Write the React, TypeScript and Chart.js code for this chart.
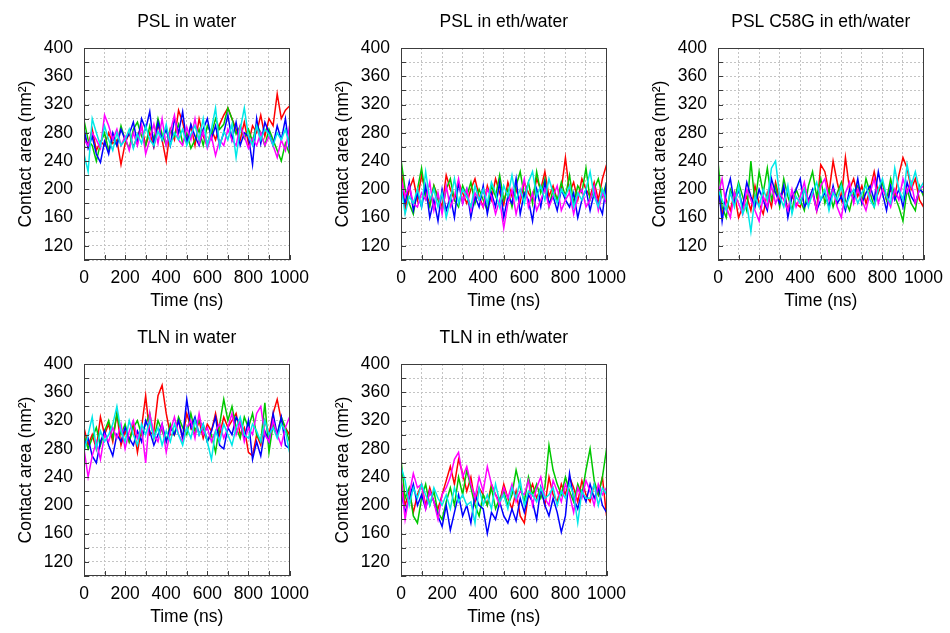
import React, { useEffect, useRef } from "react";
import { Chart, registerables } from "chart.js";
Chart.register(...registerables);

// Time axis (ns)
const timeNs = [0,20,40,60,80,100,120,140,160,180,200,220,240,260,280,300,320,340,360,380,400,420,440,460,480,500,520,540,560,580,600,620,640,660,680,700,720,740,760,780,800,820,840,860,880,900,920,940,960,980,1000];

// Panel titles
const panelTitles = ["PSL in water", "PSL in eth/water", "PSL C58G in eth/water", "TLN in water", "TLN in eth/water"];

// Series colours (gnuplot default order)
const seriesColors = ["#ff0000", "#00c800", "#0000ff", "#ff00ff", "#00e8e8"];

// Axis ticks
const yMin = 100, yMax = 400, yStep = 20, yLabelEvery = 40;
const xMin = 0, xMax = 1000, xStep = 100, xLabelEvery = 200;

// PSL in water
const p1Red = [278,262,285,255,268,262,280,265,270,235,265,280,260,275,290,262,280,260,292,270,240,285,270,312,295,268,290,262,300,275,262,285,270,292,305,315,300,285,270,295,265,290,280,305,275,300,290,335,300,312,318];
const p1Green = [298,270,262,240,265,280,255,272,262,290,270,258,285,295,275,262,290,270,300,278,262,285,275,292,265,280,258,270,285,262,290,278,300,285,292,315,300,278,290,272,285,268,292,280,262,285,270,255,240,265,250];
const p1Blue = [285,258,275,250,238,268,250,280,262,285,270,278,295,265,300,285,310,262,295,270,285,262,300,280,310,265,292,275,262,285,300,272,290,262,280,305,270,295,262,280,275,235,300,265,295,280,262,290,270,300,255];
const p1Magenta = [270,262,280,270,258,305,290,270,285,262,275,255,280,262,290,250,270,292,265,300,262,282,305,270,262,288,270,300,265,282,258,275,248,270,262,285,270,262,290,275,258,272,262,280,262,275,262,245,270,255,290];
const p1Cyan = [250,225,300,280,262,290,270,255,280,262,270,285,258,278,265,290,270,262,282,270,292,262,280,270,285,262,278,290,270,300,262,285,315,260,282,270,292,245,285,315,275,262,290,270,285,278,262,280,270,285,262];

// PSL in eth/water
const p2Red = [235,170,200,215,185,220,195,180,205,190,175,220,200,185,210,195,180,200,215,190,175,205,185,215,195,178,210,190,200,182,210,195,185,215,200,225,190,205,185,200,245,195,210,185,215,200,190,210,185,215,235];
const p2Green = [242,200,180,165,200,230,190,175,205,185,170,200,215,185,175,205,190,210,180,200,185,170,205,190,220,185,200,175,205,225,190,210,180,225,195,215,175,200,185,210,190,220,180,205,195,230,185,200,215,190,210];
const p2Blue = [200,180,210,170,195,175,205,160,185,155,200,170,190,160,210,180,200,160,190,175,205,165,195,175,210,160,190,180,215,165,195,185,155,200,175,210,180,190,170,200,185,175,195,160,185,200,170,195,180,165,210];
const p2Magenta = [215,190,205,180,175,195,185,210,170,195,165,205,175,190,215,180,200,170,195,185,175,200,190,165,185,145,180,200,165,190,215,175,195,170,185,200,175,190,205,170,185,195,165,190,200,175,185,205,170,195,180];
const p2Cyan = [205,165,190,180,200,175,225,185,200,175,195,160,185,215,180,200,190,175,205,185,200,180,210,195,175,205,190,220,185,200,180,210,225,190,205,185,215,195,180,200,190,205,175,195,185,200,225,190,175,200,185];

// PSL C58G in eth/water
const p3Red = [200,165,185,170,195,160,175,190,170,205,180,165,195,175,210,185,200,170,190,180,175,200,185,195,170,235,225,195,240,210,185,245,200,215,190,205,180,200,225,195,210,185,200,190,220,245,230,200,215,185,175];
const p3Green = [240,175,160,200,185,210,190,170,240,180,225,195,230,185,205,175,215,190,170,200,185,170,205,225,190,215,180,200,175,195,210,185,170,195,205,180,215,195,175,200,210,185,215,190,175,155,200,180,170,205,190];
const p3Blue = [210,155,195,215,180,200,175,210,190,175,200,185,170,215,195,180,205,160,190,200,215,175,185,200,170,185,195,175,205,180,190,170,200,185,215,180,195,205,185,225,195,170,205,185,200,175,210,190,180,200,195];
const p3Magenta = [190,215,175,160,195,180,165,200,185,170,155,190,175,205,180,195,185,170,200,175,190,210,180,195,170,205,215,185,200,175,160,195,210,180,200,185,170,195,215,180,200,190,175,200,185,215,195,210,180,200,205];
const p3Cyan = [200,185,170,195,175,205,165,180,140,190,175,200,185,230,240,190,175,205,165,190,180,200,175,195,210,185,200,170,195,185,205,175,190,200,180,195,205,185,175,200,215,190,180,230,200,185,235,205,225,200,210];

// TLN in water
const p4Red = [310,285,300,280,325,300,315,290,330,285,305,290,315,275,310,355,300,305,355,370,330,300,300,320,295,330,310,300,320,295,315,305,330,300,325,310,320,330,300,310,275,270,300,285,320,300,330,350,320,310,300];
const p4Green = [300,280,295,310,285,305,320,295,330,300,315,290,310,320,300,315,330,295,320,305,290,315,300,325,310,300,330,305,320,310,290,300,275,315,350,320,340,310,295,325,310,330,300,290,345,275,315,300,325,310,290];
const p4Blue = [285,295,270,260,290,305,285,270,300,290,310,295,285,305,290,320,305,285,300,315,290,310,300,320,295,350,310,325,300,315,290,305,325,285,280,310,300,325,315,295,320,265,290,270,305,290,330,300,325,285,280];
const p4Magenta = [280,240,270,290,265,300,290,310,295,315,280,305,320,295,310,260,330,300,290,315,275,305,325,300,290,310,320,295,330,300,310,290,305,315,295,310,330,300,320,290,310,300,330,340,300,290,320,300,285,310,325];
const p4Cyan = [275,300,325,280,305,290,300,315,340,305,290,320,300,285,315,300,320,295,310,285,305,290,315,300,285,310,295,320,300,315,290,265,305,290,315,300,285,310,325,300,295,315,305,290,320,300,310,295,315,305,275];

// TLN in eth/water
const p5Red = [235,200,220,190,215,230,200,225,205,195,215,235,255,230,265,245,220,240,205,225,215,200,230,215,205,230,210,195,220,185,175,215,230,210,225,200,240,215,205,230,215,240,225,205,235,215,205,230,215,240,185];
const p5Green = [265,210,225,185,175,210,230,200,220,190,180,205,225,200,240,215,250,225,200,185,215,200,225,195,210,220,200,215,250,225,205,240,215,230,210,225,285,250,230,215,240,220,205,230,215,250,280,235,215,240,280];
const p5Blue = [220,190,210,230,200,215,195,220,205,185,170,200,165,190,215,185,200,175,215,200,195,160,190,180,205,185,175,195,178,210,190,215,205,180,225,200,185,210,190,162,185,245,210,195,220,205,230,210,225,200,190];
const p5Magenta = [240,180,215,245,225,230,195,220,205,180,215,225,240,265,275,240,255,230,210,240,220,255,230,215,200,225,210,230,205,220,215,235,200,225,240,210,200,235,220,205,230,215,190,225,210,235,220,200,230,215,225];
const p5Cyan = [255,235,200,225,210,230,215,200,225,210,200,215,195,225,205,215,200,205,175,225,200,215,195,230,205,215,195,225,210,235,200,220,215,205,225,210,215,225,200,220,210,230,215,175,220,210,210,230,200,225,215];

const panelSeries = [
  [p1Red, p1Green, p1Blue, p1Magenta, p1Cyan],
  [p2Red, p2Green, p2Blue, p2Magenta, p2Cyan],
  [p3Red, p3Green, p3Blue, p3Magenta, p3Cyan],
  [p4Red, p4Green, p4Blue, p4Magenta, p4Cyan],
  [p5Red, p5Green, p5Blue, p5Magenta, p5Cyan],
];

// Canvas placement (page coordinates) for each panel
const panelLeft = [0, 317, 634, 0, 317];
const panelTop = [0, 0, 0, 316, 316];
const CW = 317, CH = 316;
const FONT = "'Liberation Sans', Arial, Helvetica, sans-serif";

const framePlugin = {
  id: "frameTicks",
  afterDatasetsDraw(chart: any) {
    const { ctx, chartArea: a, scales } = chart;
    ctx.save();
    ctx.strokeStyle = "#3c3c3c";
    ctx.lineWidth = 1;
    ctx.beginPath();
    const xs = scales.x, ys = scales.y;
    xs.ticks.forEach((t: any) => {
      const px = Math.round(xs.getPixelForValue(t.value)) + 0.5;
      ctx.moveTo(px, a.bottom);
      ctx.lineTo(px, a.bottom - 5);
    });
    ys.ticks.forEach((t: any) => {
      const py = Math.round(ys.getPixelForValue(t.value)) + 0.5;
      ctx.moveTo(a.left, py);
      ctx.lineTo(a.left + 5, py);
    });
    ctx.stroke();
    ctx.strokeRect(Math.round(a.left) + 0.5, Math.round(a.top) + 0.5, Math.round(a.right - a.left) - 1, Math.round(a.bottom - a.top) - 1);
    ctx.restore();
  },
};

function Panel({ idx }: { idx: number }) {
  const ref = useRef<HTMLCanvasElement | null>(null);
  useEffect(() => {
    if (!ref.current) return;
    const series = panelSeries[idx];
    const datasets = series.map((vals, i) => ({
      label: "run " + (i + 1),
      data: vals.map((v, j) => ({ x: timeNs[j], y: v })),
      borderColor: seriesColors[i],
      backgroundColor: seriesColors[i],
      borderWidth: 1.5,
      pointRadius: 0,
      tension: 0,
      fill: false,
      order: series.length - i,
    }));
    const chart = new Chart(ref.current, {
      type: "line",
      data: { datasets },
      plugins: [framePlugin],
      options: {
        animation: false,
        responsive: false,
        devicePixelRatio: 1,
        layout: { padding: { left: 0, right: 25, top: 0, bottom: 0 } },
        plugins: {
          legend: { display: false },
          tooltip: { enabled: false },
          title: {
            display: true,
            text: panelTitles[idx],
            color: "#000",
            fullSize: false,
            font: { family: FONT, size: 17.5, weight: "normal" },
            padding: { top: 12, bottom: 15 },
          },
        },
        scales: {
          x: {
            type: "linear",
            min: xMin,
            max: xMax,
            afterFit: (s: any) => { s.height = 56; },
            grid: { color: "#c4c4c4", drawTicks: false, lineWidth: 1 },
            border: { display: false, dash: [2, 2] },
            ticks: {
              stepSize: xStep,
              autoSkip: false,
              maxRotation: 0,
              padding: 8,
              color: "#000",
              font: { family: FONT, size: 17.5 },
              callback: (v: any) => (Number(v) % xLabelEvery === 0 ? String(v) : ""),
            },
            title: {
              display: true,
              text: "Time (ns)",
              color: "#000",
              font: { family: FONT, size: 17.5 },
              padding: { top: 0, bottom: 4 },
            },
          },
          y: {
            type: "linear",
            min: yMin,
            max: yMax,
            afterFit: (s: any) => { s.width = 84; },
            grid: { color: "#c4c4c4", drawTicks: false, lineWidth: 1 },
            border: { display: false, dash: [2, 2] },
            ticks: {
              stepSize: yStep,
              autoSkip: false,
              padding: 11,
              color: "#000",
              font: { family: FONT, size: 17.5 },
              callback: (v: any) => (Number(v) % yLabelEvery === 0 ? String(v) : ""),
            },
            title: {
              display: true,
              text: "Contact area (nm²)",
              color: "#000",
              font: { family: FONT, size: 17.5 },
              padding: { top: 16, bottom: 0 },
            },
          },
        },
      } as any,
    });
    return () => chart.destroy();
  }, [idx]);
  return (
    <canvas
      ref={ref}
      width={CW}
      height={CH}
      style={{ position: "absolute", left: panelLeft[idx], top: panelTop[idx], width: CW, height: CH }}
    />
  );
}

export default function App() {
  return (
    <div style={{ position: "absolute", left: 0, top: 0, width: 950, height: 633, background: "#fff" }}>
      {panelTitles.map((_, i) => (
        <Panel key={i} idx={i} />
      ))}
    </div>
  );
}
